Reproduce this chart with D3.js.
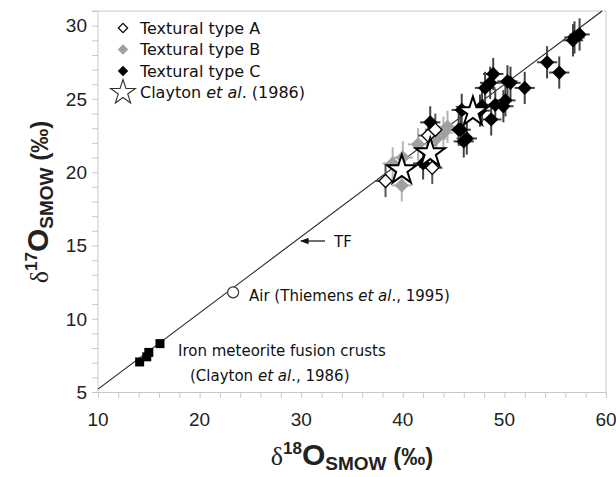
<!DOCTYPE html>
<html>
<head>
<meta charset="utf-8">
<script src="https://cdn.jsdelivr.net/npm/d3@7/dist/d3.min.js"></script>
<style>
  html, body { margin: 0; padding: 0; background: #fff; }
  svg { display: block; }
</style>
</head>
<body>
<svg id="chart" width="616" height="477"></svg>
<script>
// Oxygen three-isotope plot: δ17O vs δ18O (SMOW)

// Textural type A (open diamonds) [δ18O, δ17O]
const typeA = [[38.3, 19.4], [42.5, 22.5], [42.9, 20.3], [43.2, 22.9]];
// Textural type B (grey diamonds)
const typeB = [[39.0, 20.6], [40.0, 21.0], [39.9, 19.1], [41.5, 21.9], [44.4, 23.1], [44.0, 22.7], [43.3, 22.3]];
// Textural type C (black diamonds)
const typeC = [
  [56.9, 29.2], [57.4, 29.4], [56.75, 29.0], [54.2, 27.5], [55.4, 26.8], [52.0, 25.75],
  [48.9, 26.7], [48.6, 26.1], [50.3, 26.2], [50.6, 26.1], [48.1, 25.75], [50.1, 24.9],
  [49.1, 24.6], [49.9, 24.5], [47.8, 24.5], [45.8, 24.25], [47.6, 24.2], [48.7, 23.6],
  [45.7, 22.9], [46.3, 22.3], [46.0, 22.1], [42.7, 23.4], [45.5, 22.9], [42.0, 20.6]
];
// Clayton et al. (1986) – open stars
const clayton = [[39.9, 20.15], [42.7, 21.3], [46.9, 24.1]];
// Iron meteorite fusion crusts (Clayton et al., 1986) – black squares
const ironCrusts = [[14.1, 7.05], [14.8, 7.4], [15.0, 7.7], [16.1, 8.3]];
// Air (Thiemens et al., 1995)
const air = [[23.3, 11.8]];
// Error bar half-widths (‰) [δ18O, δ17O]
const errA = [1.0, 1.1], errB = [1.0, 1.1], errC = [1.0, 1.1];
// Terrestrial fractionation line slope
const tfSlope = 0.52;

const xTicks = [10, 20, 30, 40, 50, 60];
const yTicks = [5, 10, 15, 20, 25, 30];

const svg = d3.select("#chart");
const plot = { left: 98, right: 606, top: 11, bottom: 392 };

const x = d3.scaleLinear().domain([10, 60]).range([plot.left, plot.right]);
const y = d3.scaleLinear().domain([5, 31]).range([plot.bottom, plot.top]);

const axisColor = "#c8c8c8";
const tickFont = "'Liberation Sans', Arial, sans-serif";
const textFont = "'DejaVu Sans', Verdana, sans-serif";

// frame (top and right)
svg.append("line").attr("x1", plot.left).attr("x2", plot.right).attr("y1", plot.top).attr("y2", plot.top)
  .attr("stroke", axisColor).attr("stroke-width", 1);
svg.append("line").attr("x1", plot.right).attr("x2", plot.right).attr("y1", plot.top).attr("y2", plot.bottom)
  .attr("stroke", axisColor).attr("stroke-width", 1);

// x axis
const xAxis = d3.axisBottom(x).tickValues(d3.range(10, 60.01, 2)).tickSize(6).tickFormat("");
const gx = svg.append("g").attr("transform", `translate(0,${plot.bottom})`).call(xAxis);
gx.selectAll("path, line").attr("stroke", axisColor);
svg.append("g").selectAll("text").data(xTicks).join("text")
  .attr("x", d => x(d)).attr("y", 426)
  .attr("text-anchor", "middle")
  .attr("font-family", tickFont).attr("font-size", 19).attr("fill", "#222")
  .text(d => d);

// y axis
const yAxis = d3.axisLeft(y).tickValues(d3.range(5, 31.01, 1)).tickSize(6).tickFormat("");
const gy = svg.append("g").attr("transform", `translate(${plot.left},0)`).call(yAxis);
gy.selectAll("path, line").attr("stroke", axisColor);
gy.select(".domain").attr("d", `M-6,${plot.top}H0V${plot.bottom}`);
svg.append("g").selectAll("text").data(yTicks).join("text")
  .attr("x", 87).attr("y", d => y(d)).attr("dy", "0.36em")
  .attr("text-anchor", "end")
  .attr("font-family", tickFont).attr("font-size", 19).attr("fill", "#222")
  .text(d => d);

// axis titles: δ with isotope superscript, bold O, SMOW subscript
function isoTitle(sel, mass) {
  sel.append("tspan").attr("font-size", 26).attr("font-weight", "normal")
    .attr("font-family", "'Liberation Serif', serif").text("δ");
  sel.append("tspan").attr("font-size", 17).attr("dy", -11).text(mass);
  sel.append("tspan").attr("font-size", 30).attr("dy", 11).text("O");
  sel.append("tspan").attr("font-size", 19).attr("dy", 5).text("SMOW");
  sel.append("tspan").attr("font-size", 24).attr("dy", -5).text(" (‰)");
}
const xt = svg.append("text").attr("x", 352).attr("y", 465).attr("text-anchor", "middle")
  .attr("font-family", tickFont).attr("font-weight", "bold").attr("fill", "#222");
isoTitle(xt, "18");

const yt = svg.append("text").attr("transform", "translate(48,202) rotate(-90)").attr("text-anchor", "middle")
  .attr("font-family", tickFont).attr("font-weight", "bold").attr("fill", "#222");
isoTitle(yt, "17");

// terrestrial fractionation line
const tfX0 = 10, tfX1 = 31 / tfSlope;
svg.append("line")
  .attr("x1", x(tfX0)).attr("y1", y(tfSlope * tfX0))
  .attr("x2", x(tfX1)).attr("y2", y(tfSlope * tfX1))
  .attr("stroke", "#222").attr("stroke-width", 1.1);

// error bars
function errorBars(data, err, color) {
  const g = svg.append("g").attr("stroke", color).attr("stroke-width", 2);
  g.selectAll("line.v").data(data).join("line").attr("class", "v")
    .attr("x1", d => x(d[0])).attr("x2", d => x(d[0]))
    .attr("y1", d => y(d[1] - err[1])).attr("y2", d => y(d[1] + err[1]));
  g.selectAll("line.h").data(data).join("line").attr("class", "h")
    .attr("x1", d => x(d[0] - err[0])).attr("x2", d => x(d[0] + err[0]))
    .attr("y1", d => y(d[1])).attr("y2", d => y(d[1]));
}
errorBars(typeB, errB, "#b4b4b4");
errorBars(typeA, errA, "#555");
errorBars(typeC, errC, "#444");

const diamond = d3.symbol().type(d3.symbolDiamond2);
function diamonds(data, size, fill, stroke, sw) {
  svg.append("g").selectAll("path").data(data).join("path")
    .attr("transform", d => `translate(${x(d[0])},${y(d[1])})`)
    .attr("d", diamond.size(size)())
    .attr("fill", fill).attr("stroke", stroke).attr("stroke-width", sw);
}
diamonds(typeB, 130, "#a0a0a0", "none", 0);
diamonds(typeC, 130, "#000", "none", 0);
diamonds(typeA, 110, "#fff", "#000", 1.3);

// stars
const star = d3.symbol().type(d3.symbolStar);
svg.append("g").selectAll("path").data(clayton).join("path")
  .attr("transform", d => `translate(${x(d[0])},${y(d[1])})`)
  .attr("d", star.size(270)())
  .attr("fill", "#fff").attr("stroke", "#000").attr("stroke-width", 2);

// iron meteorite crusts
svg.append("g").selectAll("rect").data(ironCrusts).join("rect")
  .attr("x", d => x(d[0]) - 4.5).attr("y", d => y(d[1]) - 4.5)
  .attr("width", 9).attr("height", 9).attr("fill", "#000");

// air
svg.append("g").selectAll("circle").data(air).join("circle")
  .attr("cx", d => x(d[0])).attr("cy", d => y(d[1])).attr("r", 5.5)
  .attr("fill", "#fff").attr("stroke", "#333").attr("stroke-width", 1.2);

// annotations
function label(xp, yp, parts) {
  const t = svg.append("text").attr("x", xp).attr("y", yp)
    .attr("font-family", textFont).attr("font-size", 15).attr("fill", "#111");
  parts.forEach(p => t.append("tspan").attr("font-style", p[1] ? "italic" : "normal").text(p[0]));
}
label(249, 301, [["Air (Thiemens "], ["et al", true], ["., 1995)"]]);
label(178, 356, [["Iron meteorite fusion crusts"]]);
label(190, 381, [["(Clayton "], ["et al", true], ["., 1986)"]]);
label(334, 247, [["TF"]]);

// TF arrow
svg.append("defs").append("marker").attr("id", "ah").attr("viewBox", "0 0 10 10")
  .attr("refX", 9).attr("refY", 5).attr("markerWidth", 7).attr("markerHeight", 7).attr("orient", "auto")
  .append("path").attr("d", "M0,1L10,5L0,9Z").attr("fill", "#111");
svg.append("line").attr("x1", 325).attr("x2", 301).attr("y1", 241).attr("y2", 241)
  .attr("stroke", "#111").attr("stroke-width", 1.2).attr("marker-end", "url(#ah)");

// legend
const legendItems = [
  { kind: "A", text: [["Textural type A"]] },
  { kind: "B", text: [["Textural type B"]] },
  { kind: "C", text: [["Textural type C"]] },
  { kind: "S", text: [["Clayton "], ["et al", true], [". (1986)"]] }
];
legendItems.forEach((it, i) => {
  const cy = 28 + i * 21.5;
  if (it.kind === "S") {
    svg.append("path").attr("transform", `translate(123,${cy})`)
      .attr("d", star.size(190)()).attr("fill", "#fff").attr("stroke", "#333").attr("stroke-width", 1.1);
  } else {
    const fill = it.kind === "A" ? "#fff" : it.kind === "B" ? "#a0a0a0" : "#000";
    svg.append("path").attr("transform", `translate(123,${cy})`)
      .attr("d", diamond.size(it.kind === "A" ? 55 : 70)())
      .attr("fill", fill).attr("stroke", it.kind === "A" ? "#000" : "none").attr("stroke-width", 1.2);
  }
  const t = svg.append("text").attr("x", 140).attr("y", cy).attr("dy", "0.36em")
    .attr("font-family", textFont).attr("font-size", 16).attr("fill", "#111");
  it.text.forEach(p => t.append("tspan").attr("font-style", p[1] ? "italic" : "normal").text(p[0]));
});
</script>
</body>
</html>
